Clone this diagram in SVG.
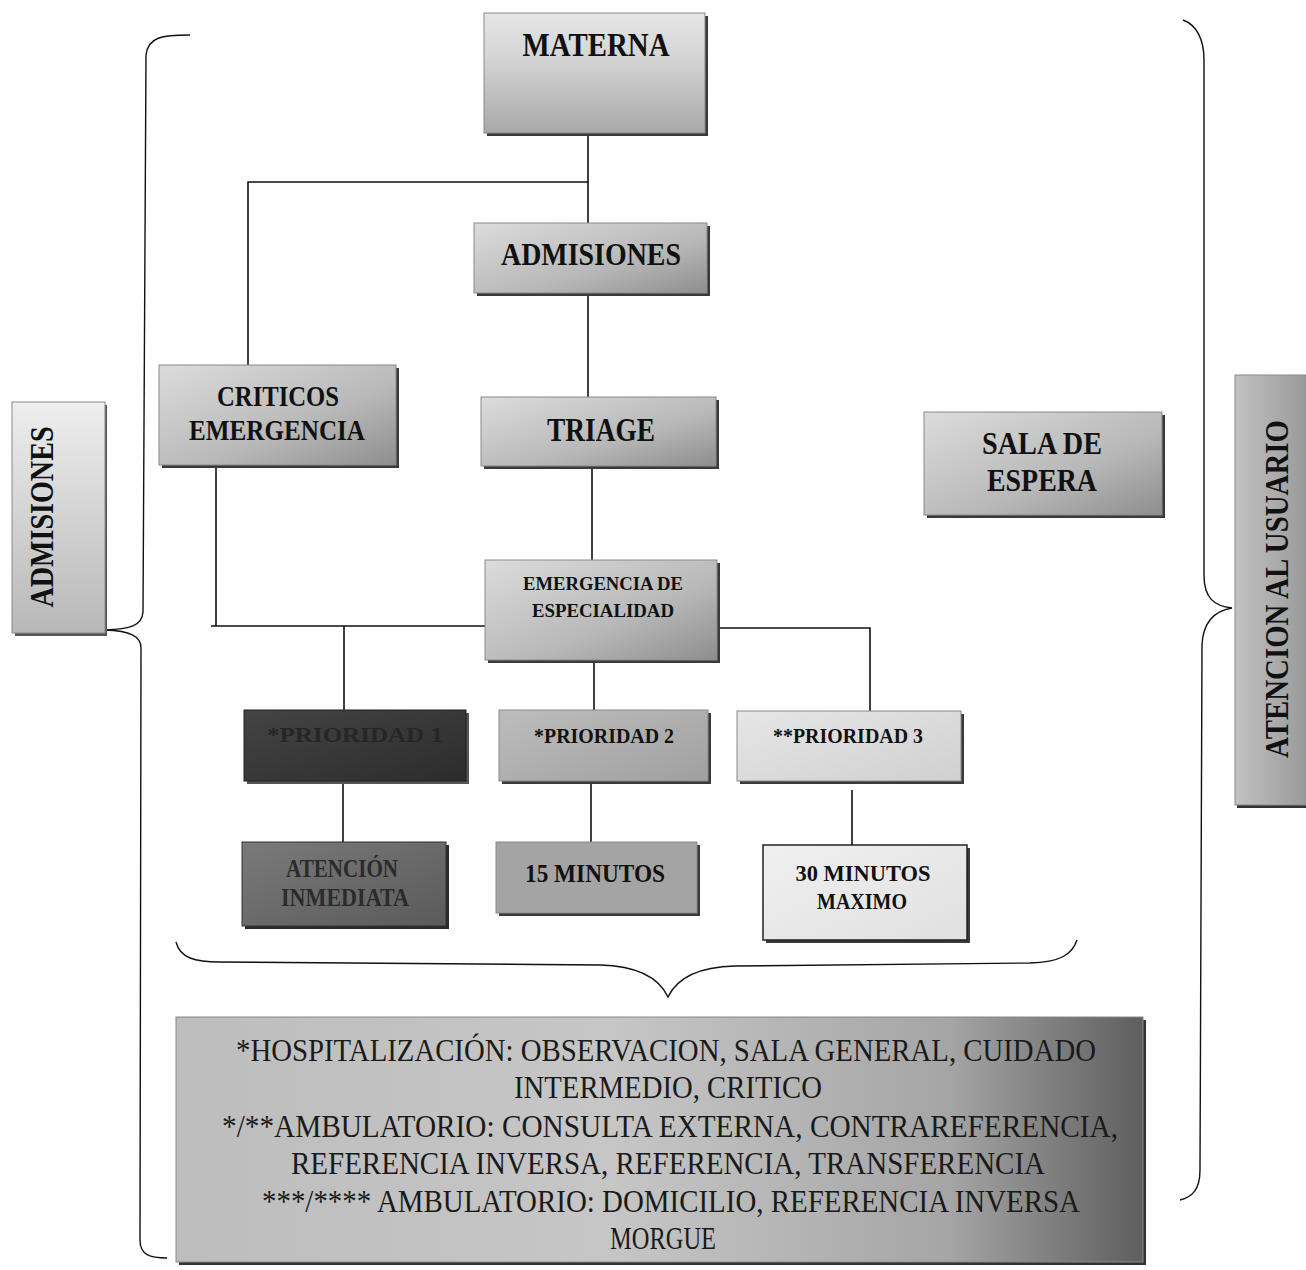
<svg xmlns="http://www.w3.org/2000/svg" width="1306" height="1270" viewBox="0 0 1306 1270">
<style>
.lbl{font-family:"Liberation Serif","DejaVu Serif",serif;font-weight:bold;fill:#111;text-anchor:middle}
.foot{font-family:"Liberation Serif","DejaVu Serif",serif;font-size:31px;fill:#1a1a1a;text-anchor:middle}
.conn{fill:none;stroke:#111;stroke-width:1.6}
.brace{fill:none;stroke:#111;stroke-width:1.4}
.shadow{fill:#3a3a3a}
.edge{stroke:#8a8a8a;stroke-width:1}
</style>
<defs>
<linearGradient id="gV" x1="0" y1="0" x2="0" y2="1">
<stop offset="0" stop-color="#e6e6e6"/><stop offset="0.35" stop-color="#d6d6d6"/><stop offset="1" stop-color="#a9a9a9"/>
</linearGradient>
<linearGradient id="gH" x1="0" y1="0" x2="1" y2="1">
<stop offset="0" stop-color="#dcdcdc"/><stop offset="0.6" stop-color="#b8b8b8"/><stop offset="1" stop-color="#8e8e8e"/>
</linearGradient>
<linearGradient id="gP1" x1="0" y1="0" x2="1" y2="1">
<stop offset="0" stop-color="#444"/><stop offset="1" stop-color="#2c2c2c"/>
</linearGradient>
<linearGradient id="gAI" x1="0" y1="0" x2="1" y2="1">
<stop offset="0" stop-color="#7a7a7a"/><stop offset="1" stop-color="#5a5a5a"/>
</linearGradient>
<linearGradient id="gP2" x1="0" y1="0" x2="1" y2="1">
<stop offset="0" stop-color="#bdbdbd"/><stop offset="1" stop-color="#a0a0a0"/>
</linearGradient>
<linearGradient id="gP3" x1="0" y1="0" x2="1" y2="1">
<stop offset="0" stop-color="#e6e6e6"/><stop offset="1" stop-color="#d0d0d0"/>
</linearGradient>
<linearGradient id="g30" x1="0" y1="0" x2="1" y2="1">
<stop offset="0" stop-color="#f0f0f0"/><stop offset="1" stop-color="#e0e0e0"/>
</linearGradient>
<linearGradient id="gFoot" x1="0" y1="0" x2="1" y2="0">
<stop offset="0" stop-color="#bdbdbd"/><stop offset="0.45" stop-color="#c6c6c6"/><stop offset="0.8" stop-color="#a5a5a5"/><stop offset="1" stop-color="#5e5e5e"/>
</linearGradient>
<linearGradient id="gAdm" x1="0" y1="0" x2="0" y2="1">
<stop offset="0" stop-color="#eeeeee"/><stop offset="1" stop-color="#b8b8b8"/>
</linearGradient>
<linearGradient id="gAte" x1="0" y1="0" x2="1" y2="0">
<stop offset="0" stop-color="#c2c2c2"/><stop offset="1" stop-color="#9a9a9a"/>
</linearGradient>
</defs>
<rect width="1306" height="1270" fill="#ffffff"/>

<g id="connectors">
<path class="conn" d="M588 133 V223"/>
<path class="conn" d="M588 182 H248 V365"/>
<path class="conn" d="M588 295 V397"/>
<path class="conn" d="M592 467 V560"/>
<path class="conn" d="M216 466 V626"/>
<path class="conn" d="M211 626 H485"/>
<path class="conn" d="M717 628 H870 V712"/>
<path class="conn" d="M344 626 V710"/>
<path class="conn" d="M594 660 V712"/>
<path class="conn" d="M343 782 V842"/>
<path class="conn" d="M591 784 V842"/>
<path class="conn" d="M852 790 V847"/>
</g>

<g id="braces">
<path class="brace" d="M190 35 C162 35 148 37 146 55 L143 612 C142 626 130 629 105 630 C130 631 141 636 141 648 L140 1240 C140 1255 150 1258 167 1258"/>
<path class="brace" d="M1183 20 C1197 25 1204 40 1204 60 L1204 575 C1204 598 1214 606 1232 608 C1214 611 1203 622 1202 645 L1200 1170 C1200 1190 1192 1197 1180 1200"/>
<path class="brace" d="M176 942 C180 958 195 962 220 962 L600 965 C640 966 660 980 668 997 C676 980 695 967 735 966 L1030 963 C1060 962 1072 955 1077 940"/>
</g>

<g id="materna">
<rect class="shadow" x="487" y="16" width="221" height="120"/>
<rect class="edge" x="484" y="13" width="221" height="120" fill="url(#gV)"/>
<text class="lbl" x="596" y="56" font-size="34" textLength="147" lengthAdjust="spacingAndGlyphs">MATERNA</text>
</g>

<g id="admisiones">
<rect class="shadow" x="477" y="226" width="233" height="70"/>
<rect class="edge" x="474" y="223" width="233" height="70" fill="url(#gH)"/>
<text class="lbl" x="591" y="265" font-size="31" textLength="180" lengthAdjust="spacingAndGlyphs">ADMISIONES</text>
</g>

<g id="criticos">
<rect class="shadow" x="162" y="368" width="237" height="100"/>
<rect class="edge" x="159" y="365" width="237" height="100" fill="url(#gH)"/>
<text class="lbl" x="278" y="406" font-size="30" textLength="122" lengthAdjust="spacingAndGlyphs">CRITICOS</text>
<text class="lbl" x="277" y="440" font-size="30" textLength="176" lengthAdjust="spacingAndGlyphs">EMERGENCIA</text>
</g>

<g id="triage">
<rect class="shadow" x="484" y="400" width="235" height="69"/>
<rect class="edge" x="481" y="397" width="235" height="69" fill="url(#gH)"/>
<text class="lbl" x="601" y="441" font-size="34" textLength="108" lengthAdjust="spacingAndGlyphs">TRIAGE</text>
</g>

<g id="sala">
<rect class="shadow" x="927" y="415" width="238" height="103"/>
<rect class="edge" x="924" y="412" width="238" height="103" fill="url(#gH)"/>
<text class="lbl" x="1042" y="454" font-size="31" textLength="120" lengthAdjust="spacingAndGlyphs">SALA DE</text>
<text class="lbl" x="1042" y="491" font-size="31" textLength="110" lengthAdjust="spacingAndGlyphs">ESPERA</text>
</g>

<g id="emergencia">
<rect class="shadow" x="488" y="563" width="232" height="100"/>
<rect class="edge" x="485" y="560" width="232" height="100" fill="url(#gH)"/>
<text class="lbl" x="603" y="590" font-size="19" textLength="160" lengthAdjust="spacingAndGlyphs">EMERGENCIA DE</text>
<text class="lbl" x="603" y="617" font-size="19" textLength="142" lengthAdjust="spacingAndGlyphs">ESPECIALIDAD</text>
</g>

<g id="prioridad1">
<rect x="247" y="713" width="222" height="71" fill="#555"/>
<rect x="244" y="710" width="222" height="71" fill="url(#gP1)" stroke="#222"/>
<text class="lbl" x="355" y="742" font-size="22" style="fill:#262626" textLength="176" lengthAdjust="spacingAndGlyphs">*PRIORIDAD 1</text>
</g>

<g id="prioridad2">
<rect class="shadow" x="502" y="713" width="209" height="71"/>
<rect class="edge" x="499" y="710" width="209" height="71" fill="url(#gP2)"/>
<text class="lbl" x="604" y="743" font-size="22" textLength="140" lengthAdjust="spacingAndGlyphs">*PRIORIDAD 2</text>
</g>

<g id="prioridad3">
<rect class="shadow" x="740" y="714" width="224" height="70"/>
<rect class="edge" x="737" y="711" width="224" height="70" fill="url(#gP3)"/>
<text class="lbl" x="848" y="743" font-size="22" textLength="150" lengthAdjust="spacingAndGlyphs">**PRIORIDAD 3</text>
</g>

<g id="atencion-inmediata">
<rect x="245" y="845" width="204" height="84" fill="#2a2a2a"/>
<rect x="242" y="842" width="204" height="84" fill="url(#gAI)" stroke="#333"/>
<text class="lbl" x="342" y="877" font-size="25" style="fill:#2b2b2b" textLength="112" lengthAdjust="spacingAndGlyphs">ATENCIÓN</text>
<text class="lbl" x="345" y="906" font-size="25" style="fill:#2b2b2b" textLength="128" lengthAdjust="spacingAndGlyphs">INMEDIATA</text>
</g>

<g id="quince">
<rect class="shadow" x="499" y="845" width="201" height="71"/>
<rect class="edge" x="496" y="842" width="201" height="71" fill="#a4a4a4"/>
<text class="lbl" x="595" y="882" font-size="25" textLength="140" lengthAdjust="spacingAndGlyphs">15 MINUTOS</text>
</g>

<g id="treinta">
<rect class="shadow" x="766" y="848" width="204" height="95"/>
<rect x="763" y="845" width="204" height="95" fill="url(#g30)" stroke="#222" stroke-width="1.5"/>
<text class="lbl" x="863" y="881" font-size="24" textLength="135" lengthAdjust="spacingAndGlyphs">30 MINUTOS</text>
<text class="lbl" x="862" y="909" font-size="24" textLength="90" lengthAdjust="spacingAndGlyphs">MAXIMO</text>
</g>

<g id="resumen">
<rect x="179" y="1020" width="967" height="245" fill="#333"/>
<rect x="176" y="1017" width="967" height="245" fill="url(#gFoot)" stroke="#888"/>
<text class="foot" x="666" y="1061" textLength="860" lengthAdjust="spacingAndGlyphs">*HOSPITALIZACIÓN: OBSERVACION, SALA GENERAL, CUIDADO</text>
<text class="foot" x="668" y="1098" textLength="308" lengthAdjust="spacingAndGlyphs">INTERMEDIO, CRITICO</text>
<text class="foot" x="670" y="1137" textLength="896" lengthAdjust="spacingAndGlyphs">*/**AMBULATORIO: CONSULTA EXTERNA, CONTRAREFERENCIA,</text>
<text class="foot" x="668" y="1174" textLength="754" lengthAdjust="spacingAndGlyphs">REFERENCIA INVERSA, REFERENCIA, TRANSFERENCIA</text>
<text class="foot" x="671" y="1212" textLength="818" lengthAdjust="spacingAndGlyphs">***/**** AMBULATORIO: DOMICILIO, REFERENCIA INVERSA</text>
<text class="foot" x="663" y="1249" textLength="106" lengthAdjust="spacingAndGlyphs">MORGUE</text>
</g>

<g id="admisiones-lateral">
<rect x="15" y="405" width="92" height="231" fill="#555"/>
<rect class="edge" x="12" y="402" width="93" height="231" fill="url(#gAdm)"/>
<text class="lbl" transform="translate(53 517) rotate(-90)" x="0" y="0" font-size="33" textLength="181" lengthAdjust="spacingAndGlyphs">ADMISIONES</text>
</g>

<g id="atencion-usuario">
<rect x="1237" y="378" width="69" height="430" fill="#333"/>
<rect class="edge" x="1235" y="375" width="71" height="430" fill="url(#gAte)"/>
<text class="lbl" transform="translate(1288 589) rotate(-90)" x="0" y="0" font-size="33" textLength="338" lengthAdjust="spacingAndGlyphs">ATENCION AL USUARIO</text>
</g>
</svg>
